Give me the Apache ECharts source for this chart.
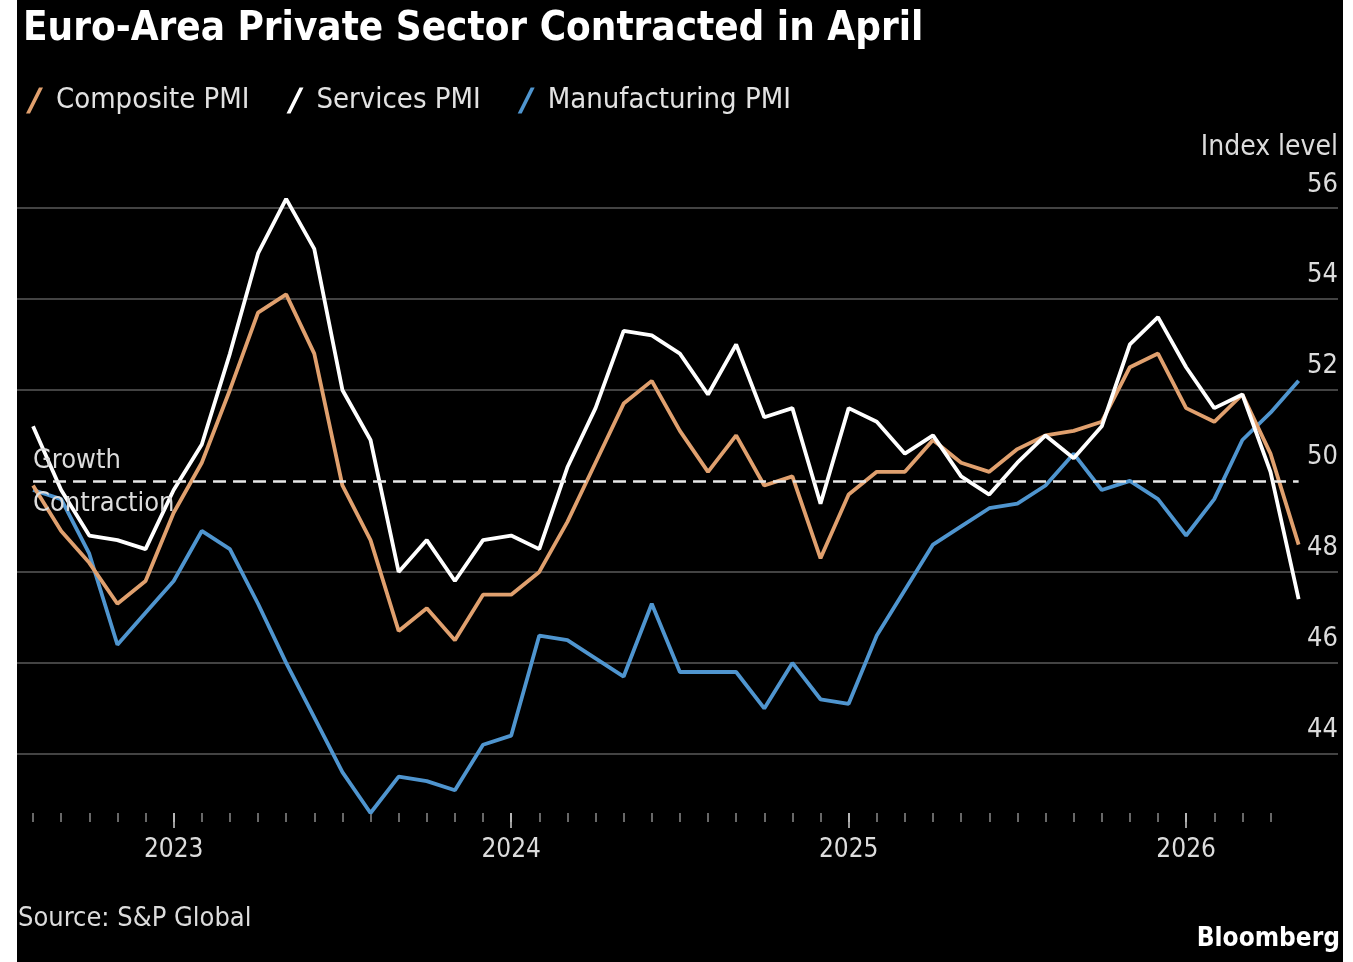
<!DOCTYPE html>
<html><head><meta charset="utf-8">
<script src="https://cdn.jsdelivr.net/npm/echarts@6/dist/echarts.min.js"></script>
<style>
html,body{margin:0;padding:0;background:#fff;width:1353px;height:962px;overflow:hidden}
#c{position:absolute;left:17px;top:0;width:1326px;height:962px;background:#000}
</style></head><body><div id="c"></div>
<script>
const months = [
  '2022-07','2022-08','2022-09','2022-10','2022-11','2022-12',
  '2023-01','2023-02','2023-03','2023-04','2023-05','2023-06','2023-07','2023-08','2023-09','2023-10','2023-11','2023-12',
  '2024-01','2024-02','2024-03','2024-04','2024-05','2024-06','2024-07','2024-08','2024-09','2024-10','2024-11','2024-12',
  '2025-01','2025-02','2025-03','2025-04','2025-05','2025-06','2025-07','2025-08','2025-09','2025-10','2025-11','2025-12',
  '2026-01','2026-02','2026-03','2026-04'
];
const compositePMI = [
  49.9,48.9,48.2,47.3,47.8,49.3,
  50.4,52.0,53.7,54.1,52.8,49.9,48.7,46.7,47.2,46.5,47.5,47.5,
  48.0,49.1,50.4,51.7,52.2,51.1,50.2,51.0,49.9,50.1,48.3,49.7,
  50.2,50.2,50.9,50.4,50.2,50.7,51.0,51.1,51.3,52.5,52.8,51.6,
  51.3,51.9,50.6,48.6
];
const servicesPMI = [
  51.2,49.8,48.8,48.7,48.5,49.8,
  50.8,52.8,55.0,56.2,55.1,52.0,50.9,48.0,48.7,47.8,48.7,48.8,
  48.5,50.3,51.6,53.3,53.2,52.8,51.9,53.0,51.4,51.6,49.5,51.6,
  51.3,50.6,51.0,50.1,49.7,50.4,51.0,50.5,51.2,53.0,53.6,52.5,
  51.6,51.9,50.2,47.4
];
const manufacturingPMI = [
  49.8,49.6,48.4,46.4,47.1,47.8,
  48.9,48.5,47.3,46.0,44.8,43.6,42.7,43.5,43.4,43.2,44.2,44.4,
  46.6,46.5,46.1,45.7,47.3,45.8,45.8,45.8,45.0,46.0,45.2,45.1,
  46.6,47.6,48.6,49.0,49.4,49.5,49.9,50.6,49.8,50.0,49.6,48.8,
  49.6,50.9,51.5,52.2
];
const yearLabels = [2023, 2024, 2025, 2026];
const yTickLabels = [44, 46, 48, 50, 52, 54, 56];
const threshold = 50;

const FONT = '"DejaVu Sans Condensed","Liberation Sans Narrow","Roboto Condensed",sans-serif';
// months are plotted at month end: index = months since start of 2022
const toX = m => { const p = m.split('-').map(Number); return (p[0] - 2022) * 12 + p[1]; };
const pairs = arr => arr.map((v, i) => [toX(months[i]), v]);
const monthTicks = months.slice(0, -1).map(toX);
const yearTicks = yearLabels.map(y => (y - 2022) * 12);
const xFirst = toX(months[0]), xLast = toX(months[months.length - 1]);
const xMin = 6.43, xMax = 53.4;

const chart = echarts.init(document.getElementById('c'));
chart.setOption({
  backgroundColor: '#000',
  animation: false,
  textStyle: { fontFamily: FONT },
  title: {
    text: 'Euro-Area Private Sector Contracted in April',
    left: 1, top: 5,
    textStyle: { color: '#fff', fontSize: 40, fontWeight: 'bold', fontFamily: FONT }
  },
  legend: {
    left: 4, top: 81,
    itemWidth: 17, itemHeight: 26, itemGap: 37,
    icon: 'path://M13,0 L17,0 L4,26 L0,26 Z',
    textStyle: { color: '#e2e2e2', fontSize: 29, fontFamily: FONT, padding: [0, 0, 0, 8] },
    data: ['Composite PMI', 'Services PMI', 'Manufacturing PMI']
  },
  grid: { left: 0, right: 5, top: 208, bottom: 149 },
  xAxis: [
    {
      type: 'value', min: xMin, max: xMax,
      axisLine: { show: false }, splitLine: { show: false },
      axisTick: { show: true, customValues: monthTicks, length: 9, lineStyle: { color: '#8a8a8a', width: 1.5 } },
      axisLabel: { show: false }
    },
    {
      type: 'value', min: xMin, max: xMax, position: 'bottom',
      axisLine: { show: false }, splitLine: { show: false },
      axisTick: { show: true, customValues: yearTicks, length: 15, lineStyle: { color: '#cfcfcf', width: 1.5 } },
      axisLabel: {
        show: true, customValues: yearTicks,
        formatter: v => String(2022 + Math.round(v / 12)),
        color: '#dcdcdc', fontSize: 26, fontFamily: FONT, margin: 24
      }
    }
  ],
  yAxis: {
    type: 'value', position: 'right', min: 42.7, max: 56,
    name: 'Index level', nameLocation: 'end', nameGap: 60,
    nameTextStyle: { color: '#dcdcdc', fontSize: 28, fontFamily: FONT, align: 'right', verticalAlign: 'middle' },
    axisLine: { show: false },
    axisTick: { show: false, customValues: yTickLabels.filter(v => v !== threshold) },
    splitLine: { show: true, lineStyle: { color: '#5a5a5a', width: 1.5 } },
    axisLabel: {
      inside: true, customValues: yTickLabels, margin: 0,
      color: '#dcdcdc', fontSize: 27, fontFamily: FONT,
      verticalAlign: 'bottom', padding: [0, 0, 10, 0]
    }
  },
  series: [
    {
      name: 'Manufacturing PMI', type: 'line', data: pairs(manufacturingPMI),
      showSymbol: false, clip: false, color: '#4f95cf',
      lineStyle: { width: 3.8, color: '#4f95cf' }, z: 2
    },
    {
      name: 'Composite PMI', type: 'line', data: pairs(compositePMI),
      showSymbol: false, clip: false, color: '#e0a06e',
      lineStyle: { width: 3.8, color: '#e0a06e' }, z: 3,
      markLine: {
        silent: true, symbol: ['none', 'none'], z: 5,
        data: [
          [
            { coord: [xFirst, threshold], lineStyle: { color: '#e8e8e8', width: 2.5, type: [13, 7] },
              label: { show: true, formatter: 'Growth', position: 'insideStartTop', distance: [0, 6], color: '#dcdcdc', fontSize: 27, fontFamily: FONT } },
            { coord: [xLast, threshold] }
          ],
          [
            { coord: [xFirst, threshold], lineStyle: { color: 'rgba(0,0,0,0)', width: 1, type: 'solid' },
              label: { show: true, formatter: 'Contraction', position: 'insideStartBottom', distance: [0, 10], color: '#dcdcdc', fontSize: 27, fontFamily: FONT, opacity: 1 } },
            { coord: [xLast, threshold] }
          ]
        ]
      }
    },
    {
      name: 'Services PMI', type: 'line', data: pairs(servicesPMI),
      showSymbol: false, clip: false, color: '#ffffff',
      lineStyle: { width: 3.8, color: '#ffffff' }, z: 4
    }
  ],
  graphic: [
    { type: 'text', left: 1, top: 905, style: { text: 'Source: S&P Global', fill: '#dcdcdc', fontSize: 27, fontFamily: FONT } },
    { type: 'text', right: 3, top: 926, style: { text: 'Bloomberg', fill: '#ffffff', fontSize: 26, fontWeight: 'bold', fontFamily: FONT } }
  ]
});
</script>
</body></html>
